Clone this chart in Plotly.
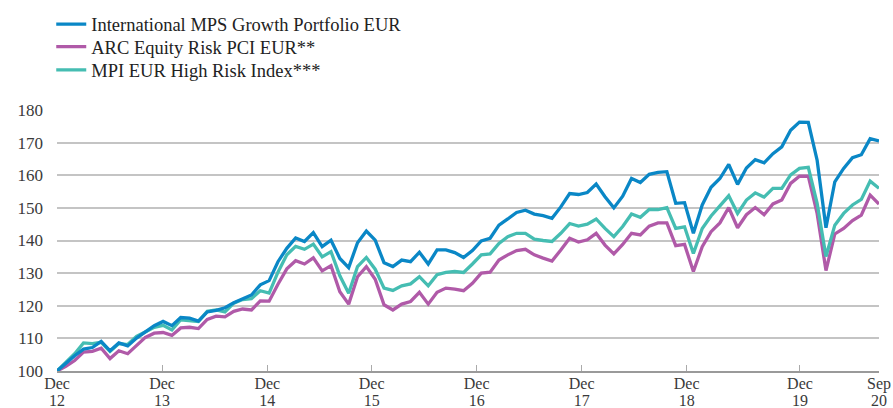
import plotly.graph_objects as go

# month index: 0 = Dec 2012 ... 93 = Sep 2020
months = list(range(94))

intl_mps = [100, 102.4, 104.7, 106.7, 107.2, 109.1, 106.2, 108.6, 107.7, 110.1,
            112.1, 113.9, 115.2, 113.9, 116.4, 116.2, 115.3, 118.1, 118.6, 119.4,
            120.9, 122.0, 123.3, 126.4, 127.7, 133.5, 137.6, 140.8, 139.7, 142.4,
            138.1, 140.1, 134.5, 131.7, 139.3, 142.9, 140.1, 133.2, 132.0, 134.0,
            133.5, 136.4, 132.8, 137.1, 137.1, 136.3, 134.8, 136.9, 139.9, 140.7,
            144.7, 146.6, 148.6, 149.3, 148.1, 147.6, 146.8, 150.3, 154.4, 154.1,
            154.7, 157.3, 153.4, 150.0, 153.6, 159.0, 157.8, 160.3, 160.9, 161.1,
            151.4, 151.6, 142.2, 150.9, 156.3, 159.0, 163.3, 157.2, 162.2, 164.8,
            163.8, 166.6, 168.7, 173.8, 176.3, 176.2, 164.6, 143.9, 158.0, 162.1,
            165.4, 166.3, 171.2, 170.5]

arc_equity = [100, 101.4, 103.2, 105.8, 106.0, 107.0, 103.8, 106.2, 105.3, 107.7,
              110.3, 111.6, 111.8, 110.9, 113.2, 113.4, 113.0, 115.8, 116.8, 116.6,
              118.3, 119.0, 118.7, 121.5, 121.4, 126.6, 131.3, 133.8, 132.8, 134.7,
              130.7, 132.3, 124.3, 120.5, 128.9, 132.0, 128.1, 120.3, 118.7, 120.5,
              121.3, 124.1, 120.5, 124.1, 125.4, 125.1, 124.6, 126.9, 130.0, 130.3,
              134.0, 135.6, 136.9, 137.3, 135.6, 134.6, 133.7, 137.1, 140.7, 139.5,
              140.2, 142.2, 138.6, 135.9, 138.8, 142.2, 141.7, 144.4, 145.4, 145.4,
              138.4, 138.8, 130.5, 138.1, 142.7, 145.4, 150.1, 143.9, 147.9, 150.1,
              147.9, 151.2, 152.4, 157.5, 159.7, 159.7, 148.3, 130.8, 142.0, 143.7,
              146.1, 147.8, 153.9, 151.2]

mpi_high = [100, 102.8, 105.3, 108.6, 108.4, 108.8, 106.0, 108.4, 108.1, 110.6,
            112.1, 113.4, 114.0, 112.6, 115.7, 115.5, 115.2, 118.3, 118.7, 118.1,
            120.8, 121.9, 122.2, 124.6, 123.9, 130.3, 135.6, 138.2, 137.3, 138.9,
            135.0, 136.6, 129.2, 123.8, 132.0, 134.8, 131.2, 125.4, 124.7, 126.1,
            126.7, 128.9, 126.1, 129.5, 130.2, 130.5, 130.2, 132.8, 135.6, 135.9,
            139.1, 141.2, 142.2, 142.2, 140.4, 140.0, 139.7, 142.2, 145.2, 144.4,
            145.0, 146.6, 143.7, 141.2, 144.3, 148.1, 147.1, 149.5, 149.5, 150.1,
            143.7, 144.2, 136.0, 143.7, 147.5, 150.6, 153.7, 148.3, 152.4, 154.6,
            153.3, 156.0, 156.0, 160.1, 162.1, 162.4, 151.4, 135.1, 144.7, 148.3,
            150.9, 152.6, 158.2, 156.0]

tick_pos = [0, 11.88, 23.79, 35.6, 47.48, 59.36, 71.24, 84.06, 93]
tick_month = ["Dec", "Dec", "Dec", "Dec", "Dec", "Dec", "Dec", "Dec", "Sep"]
tick_year = ["12", "13", "14", "15", "16", "17", "18", "19", "20"]
y_ticks = [100, 110, 120, 130, 140, 150, 160, 170, 180]

names = ["International MPS Growth Portfolio EUR", "ARC Equity Risk PCI EUR**",
         "MPI EUR High Risk Index***"]
colors = ["#0a87c6", "#b05aa8", "#45bdb2"]

FONT = "Liberation Serif"
TXT = "#3a3a3a"

fig = go.Figure()
# invisible helper trace so the second (year-label) x axis is drawn
fig.add_trace(go.Scatter(x=months, y=intl_mps, xaxis="x2", mode="lines",
                         line=dict(width=0, color="rgba(0,0,0,0)"),
                         showlegend=False, hoverinfo="skip"))
# draw order: purple, teal, blue (blue on top); each in its own legend row
fig.add_trace(go.Scatter(x=months, y=arc_equity, mode="lines", name=names[1],
                         line=dict(color=colors[1], width=3.3), legend="legend2"))
fig.add_trace(go.Scatter(x=months, y=mpi_high, mode="lines", name=names[2],
                         line=dict(color=colors[2], width=3.3), legend="legend3"))
fig.add_trace(go.Scatter(x=months, y=intl_mps, mode="lines", name=names[0],
                         line=dict(color=colors[0], width=3.3), legend="legend"))

leg_common = dict(x=-0.007, xanchor="left", yanchor="top",
                  font=dict(family=FONT, size=18.5, color="#222"),
                  bgcolor="rgba(0,0,0,0)", borderwidth=0)

fig.update_layout(
    width=893, height=408,
    margin=dict(l=57, r=14, t=110, b=37, autoexpand=False),
    paper_bgcolor="white", plot_bgcolor="white",
    showlegend=True,
    legend=dict(y=1.40, **leg_common),
    legend2=dict(y=1.314, **leg_common),
    legend3=dict(y=1.225, **leg_common),
    font=dict(family=FONT, color=TXT),
    xaxis=dict(
        range=[0, 93], tickmode="array", tickvals=tick_pos, ticktext=tick_month,
        automargin=False,
        showgrid=False, zeroline=False, showline=True, linecolor="#9a9a9a", linewidth=1.5,
        ticks="inside", ticklen=6, tickwidth=1, tickcolor="#aaaaaa",
        ticklabelstandoff=-3,
        tickfont=dict(family=FONT, size=16, color=TXT),
    ),
    xaxis2=dict(overlaying="x", anchor="y", side="bottom", range=[0, 93],
                tickmode="array", tickvals=tick_pos, ticktext=tick_year,
                automargin=False, showgrid=False, zeroline=False, showline=False,
                ticks="", ticklabelstandoff=18,
                tickfont=dict(family=FONT, size=16, color=TXT)),
    yaxis=dict(
        range=[100, 180], tickmode="array", tickvals=y_ticks, automargin=False,
        showgrid=True, gridcolor="#c4c4c4", gridwidth=1.5, zeroline=False, showline=False,
        ticks="", ticklabelstandoff=13,
        tickfont=dict(family=FONT, size=17, color=TXT),
    ),
)

fig.write_html("out.html")
